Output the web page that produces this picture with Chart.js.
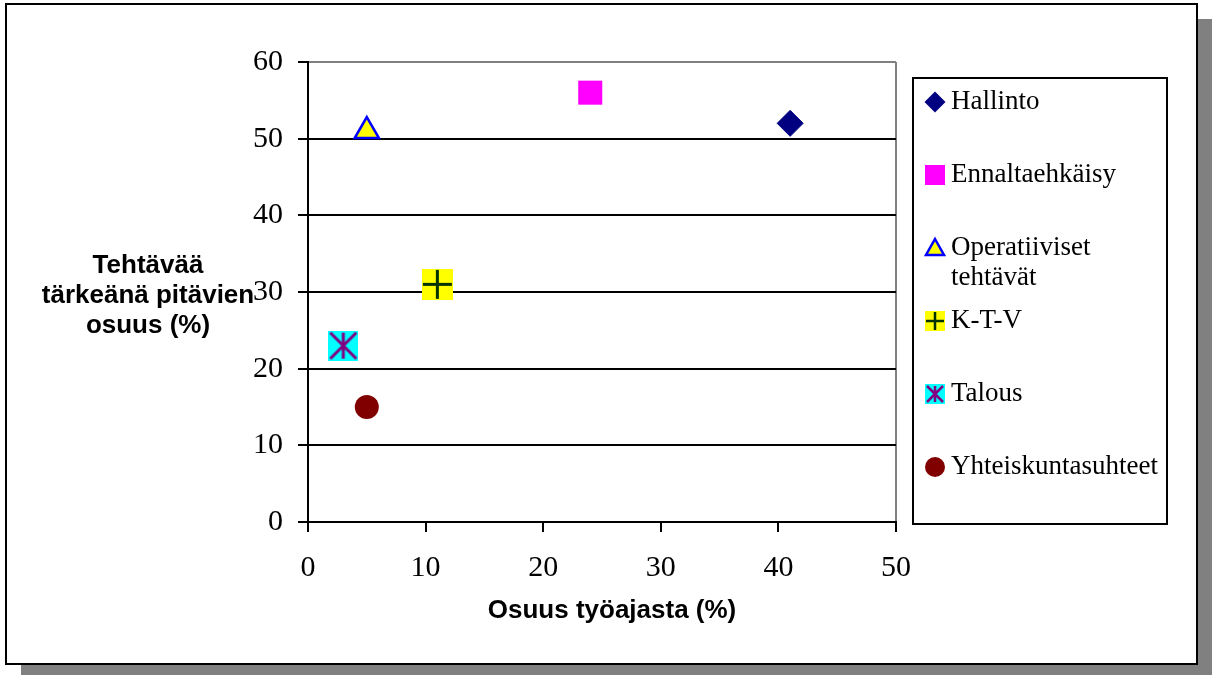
<!DOCTYPE html>
<html>
<head>
<meta charset="utf-8">
<script src="https://cdn.jsdelivr.net/npm/chart.js@4/dist/chart.umd.min.js"></script>
<style>
  html, body { margin: 0; padding: 0; background: #ffffff; }
  #wrap { width: 1212px; height: 675px; }
</style>
</head>
<body>
<div id="wrap"><canvas id="c" width="1212" height="675"></canvas></div>
<script>
// ---- data ----
const seriesNames = ['Hallinto', 'Ennaltaehkäisy', 'Operatiiviset tehtävät', 'K-T-V', 'Talous', 'Yhteiskuntasuhteet'];
const legendLines = [['Hallinto'], ['Ennaltaehkäisy'], ['Operatiiviset', 'tehtävät'], ['K-T-V'], ['Talous'], ['Yhteiskuntasuhteet']];
const xValues = [41, 24, 5, 11, 3, 5];
const yValues = [52, 56, 51, 31, 23, 15];
const xTickValues = [0, 10, 20, 30, 40, 50];
const yTickValues = [0, 10, 20, 30, 40, 50, 60];
const xTitle = 'Osuus työajasta (%)';
const yTitleLines = ['Tehtävää', 'tärkeänä pitävien', 'osuus (%)'];

// ---- marker images ----
function makeKTV(size, lw) {
  const c = document.createElement('canvas');
  c.width = size; c.height = size;
  const g = c.getContext('2d');
  g.fillStyle = '#FFFF00';
  g.fillRect(0, 0, size, size);
  g.strokeStyle = '#003300';
  g.lineWidth = lw;
  const m = size / 2, inset = 1;
  g.beginPath();
  g.moveTo(inset, m); g.lineTo(size - inset, m);
  g.moveTo(m, inset); g.lineTo(m, size - inset);
  g.stroke();
  return c;
}
function makeTalous(size, lw) {
  const c = document.createElement('canvas');
  c.width = size; c.height = size;
  const g = c.getContext('2d');
  g.fillStyle = '#00FFFF';
  g.fillRect(0, 0, size, size);
  g.strokeStyle = '#800080';
  g.lineWidth = lw;
  const m = size / 2, inset = 2;
  g.beginPath();
  g.moveTo(m, inset); g.lineTo(m, size - inset);
  g.moveTo(inset, inset); g.lineTo(size - inset, size - inset);
  g.moveTo(size - inset, inset); g.lineTo(inset, size - inset);
  g.stroke();
  return c;
}
const ktvImg = makeKTV(31, 3);
const talImg = makeTalous(30, 3);
const ktvImgSmall = makeKTV(20, 2.5);
const talImgSmall = makeTalous(20, 2.5);

const styles = [
  { pointStyle: 'rectRot', radius: 13, bg: '#000080', border: '#000080', bw: 1 },
  { pointStyle: 'rect', radius: 17, bg: '#FF00FF', border: '#FF00FF', bw: 0 },
  { pointStyle: 'triangle', radius: 14, bg: '#FFFF00', border: '#0000FF', bw: 2.5 },
  { pointStyle: ktvImg, radius: 15, bg: '#FFFF00', border: '#003300', bw: 0 },
  { pointStyle: talImg, radius: 15, bg: '#00FFFF', border: '#800080', bw: 0 },
  { pointStyle: 'circle', radius: 12, bg: '#800000', border: '#800000', bw: 0 }
];
const legendImgs = [null, null, null, ktvImgSmall, talImgSmall, null];

const datasets = seriesNames.map((name, i) => ({
  label: name,
  data: [{ x: xValues[i], y: yValues[i] }],
  pointStyle: styles[i].pointStyle,
  pointRadius: styles[i].radius,
  pointHoverRadius: styles[i].radius,
  backgroundColor: styles[i].bg,
  borderColor: styles[i].border,
  borderWidth: styles[i].bw,
  clip: false
}));

// ---- plugins ----
const framePlugin = {
  id: 'frame',
  beforeDraw(chart) {
    const ctx = chart.ctx;
    ctx.save();
    ctx.fillStyle = '#ffffff';
    ctx.fillRect(0, 0, chart.width, chart.height);
    ctx.fillStyle = '#808080';
    ctx.fillRect(21, 19, 1212 - 21, 675 - 19);
    ctx.fillStyle = '#ffffff';
    ctx.fillRect(6, 4, 1191, 660);
    ctx.strokeStyle = '#000000';
    ctx.lineWidth = 2;
    ctx.strokeRect(6, 4, 1191, 660);
    ctx.restore();
  }
};

function drawLegendMarker(ctx, i, x, y) {
  const s = styles[i];
  ctx.save();
  if (legendImgs[i]) {
    const im = legendImgs[i];
    ctx.drawImage(im, x - im.width / 2, y - im.height / 2);
  } else if (s.pointStyle === 'rectRot') {
    ctx.fillStyle = s.bg;
    ctx.beginPath();
    ctx.moveTo(x, y - 10.5); ctx.lineTo(x + 10.5, y); ctx.lineTo(x, y + 10.5); ctx.lineTo(x - 10.5, y);
    ctx.closePath(); ctx.fill();
  } else if (s.pointStyle === 'rect') {
    ctx.fillStyle = s.bg;
    ctx.fillRect(x - 10, y - 10, 20, 20);
  } else if (s.pointStyle === 'triangle') {
    ctx.fillStyle = s.bg; ctx.strokeStyle = s.border; ctx.lineWidth = 2.5;
    ctx.beginPath();
    ctx.moveTo(x, y - 9); ctx.lineTo(x + 9, y + 7); ctx.lineTo(x - 9, y + 7);
    ctx.closePath(); ctx.fill(); ctx.stroke();
  } else if (s.pointStyle === 'circle') {
    ctx.fillStyle = s.bg;
    ctx.beginPath(); ctx.arc(x, y, 10, 0, Math.PI * 2); ctx.fill();
  }
  ctx.restore();
}

const overlayPlugin = {
  id: 'overlay',
  afterDraw(chart) {
    const ctx = chart.ctx;
    ctx.save();
    // legend box
    ctx.strokeStyle = '#000000';
    ctx.lineWidth = 2;
    ctx.strokeRect(913, 78, 254, 446);
    ctx.fillStyle = '#000000';
    ctx.font = '27px "Liberation Serif", "Times New Roman", serif';
    ctx.textAlign = 'left';
    ctx.textBaseline = 'middle';
    chart.data.datasets.forEach((ds, i) => {
      const y = 102 + 73 * i;
      drawLegendMarker(ctx, i, 935, y);
      legendLines[i].forEach((line, j) => {
        ctx.fillText(line, 951, y + j * 30);
      });
    });
    // y title (horizontal)
    ctx.font = 'bold 26px "Liberation Sans", Arial, sans-serif';
    ctx.textAlign = 'center';
    yTitleLines.forEach((line, j) => ctx.fillText(line, 148, 266 + j * 30));
    // x title
    ctx.fillText(xTitle, 612, 611);
    ctx.restore();
  }
};

new Chart(document.getElementById('c'), {
  type: 'scatter',
  data: { datasets },
  options: {
    responsive: false,
    animation: false,
    events: [],
    layout: { padding: { left: 0, top: 62, right: 316, bottom: 0 } },
    plugins: { legend: { display: false }, tooltip: { enabled: false } },
    scales: {
      x: {
        type: 'linear', min: 0, max: 50,
        afterFit(s) { s.height = 153; },
        afterBuildTicks(s) { s.ticks = xTickValues.map(v => ({ value: v })); },
        ticks: {
          color: '#000', padding: 18, maxRotation: 0, autoSkip: false,
          font: { family: '"Liberation Serif", "Times New Roman", serif', size: 30 }
        },
        grid: {
          color: c => (c.tick && c.tick.value === 50) ? '#808080' : 'rgba(0,0,0,0)',
          tickColor: '#000', tickLength: 10, lineWidth: 2, drawOnChartArea: true
        },
        border: { color: '#000', width: 2 }
      },
      y: {
        type: 'linear', min: 0, max: 60,
        afterFit(s) { s.width = 308; },
        afterBuildTicks(s) { s.ticks = yTickValues.map(v => ({ value: v })); },
        ticks: {
          color: '#000', padding: 15, autoSkip: false,
          font: { family: '"Liberation Serif", "Times New Roman", serif', size: 30 }
        },
        grid: {
          color: c => (c.tick && c.tick.value === 60) ? '#808080' : '#000',
          tickColor: '#000', tickLength: 10, lineWidth: 2
        },
        border: { color: '#000', width: 2 }
      }
    }
  },
  plugins: [framePlugin, overlayPlugin]
});
</script>
</body>
</html>
